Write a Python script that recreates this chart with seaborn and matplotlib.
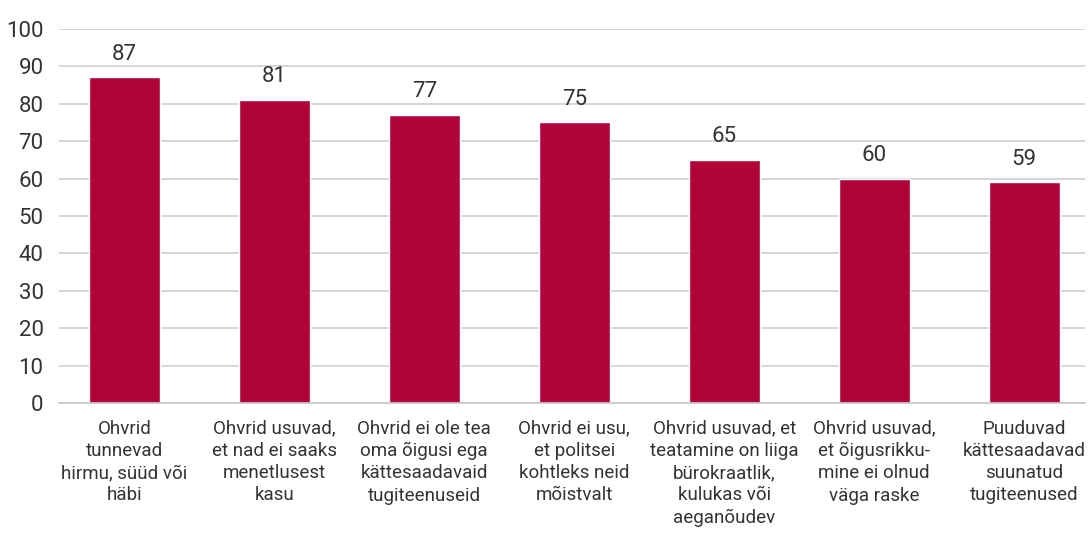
import matplotlib
matplotlib.use("Agg")
import matplotlib.pyplot as plt
import seaborn as sns
import pandas as pd

categories = [
    "Ohvrid\ntunnevad\nhirmu, süüd või\nhäbi",
    "Ohvrid usuvad,\net nad ei saaks\nmenetlusest\nkasu",
    "Ohvrid ei ole tea\noma õigusi ega\nkättesaadavaid\ntugiteenuseid",
    "Ohvrid ei usu,\net politsei\nkohtleks neid\nmõistvalt",
    "Ohvrid usuvad, et\nteatamine on liiga\nbürokraatlik,\nkulukas või\naeganõudev",
    "Ohvrid usuvad,\net õigusrikku-\nmine ei olnud\nväga raske",
    "Puuduvad\nkättesaadavad\nsuunatud\ntugiteenused",
]
values = [87, 81, 77, 75, 65, 60, 59]
y_ticks = list(range(0, 101, 10))

sns.set_theme(style="white")
plt.rcParams['font.family'] = ['Roboto', 'DejaVu Sans']

df = pd.DataFrame({"cat": categories, "val": values})
fig = plt.figure(figsize=(10.89, 5.34), dpi=100)
ax = fig.add_axes([0.054, 0.245, 0.942, 0.701])
sns.barplot(data=df, x="cat", y="val", color="#B0033A", saturation=1, width=0.473, ax=ax)
ax.set_ylim(0, 100)
ax.set_yticks(y_ticks)
ax.set_xlim(-0.437, 6.403)
ax.grid(axis="y", color="#d0d0d0", linewidth=1.2)
ax.set_axisbelow(True)
for s in ["top", "right", "left"]:
    ax.spines[s].set_visible(False)
ax.spines["bottom"].set_color("#c8c8c8")
ax.spines["bottom"].set_linewidth(1.2)
ax.set_xlabel("")
ax.set_ylabel("")
ax.tick_params(axis="y", labelsize=16, colors="#333333", length=0, pad=11)
ax.tick_params(axis="x", labelsize=13.5, colors="#333333", length=0, pad=12)
for lbl in ax.get_xticklabels():
    lbl.set_linespacing(1.3)
for c in ax.containers:
    ax.bar_label(c, labels=[str(v) for v in values], fontsize=16, color="#333333", padding=9)

fig.savefig("out.png", dpi=100)
